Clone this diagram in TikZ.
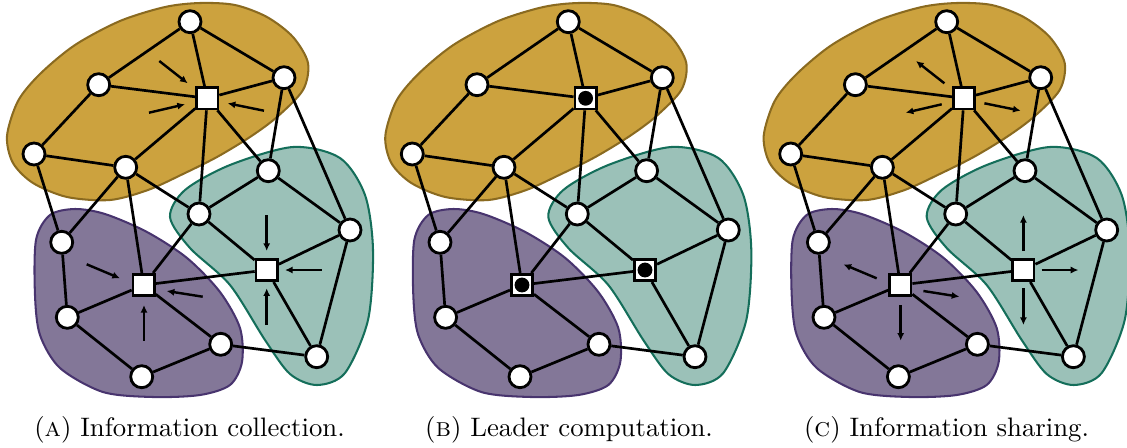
\documentclass[tikz,border=0pt]{standalone}
\usetikzlibrary{arrows.meta,backgrounds}
\definecolor{yfill}{RGB}{204,162,62}
\definecolor{yline}{RGB}{138,106,32}
\definecolor{tfill}{RGB}{155,193,184}
\definecolor{tline}{RGB}{20,110,90}
\definecolor{pfill}{RGB}{131,119,152}
\definecolor{pline}{RGB}{72,52,110}
\tikzset{
 vert/.style={circle,draw=black,fill=white,line width=1.1pt,minimum size=8.6pt,inner sep=0pt},
 lead/.style={rectangle,draw=black,fill=white,line width=1.1pt,minimum size=8.3pt,inner sep=0pt},
 ldot/.style={circle,fill=black,minimum size=5.8pt,inner sep=0pt},
 link/.style={line width=1.05pt},
 flow/.style={line width=0.95pt,-{Latex[length=3pt,width=2.8pt]}},
 blob/.style={line width=0.8pt},
 captext/.style={anchor=base,inner sep=0pt,font=\fontsize{10.45}{12.5}\selectfont}
}
\newcommand\mkgraph[2]{%
\begin{scope}[shift={(#2,0)}]
\node[vert] (#1T) at (190,21.7) {};
\node[vert] (#1UL) at (98.7,84.7) {};
\node[vert] (#1UR) at (284,77.7) {};
\node[lead] (#1S1) at (207.3,98.3) {};
\node[vert] (#1L) at (34,154) {};
\node[vert] (#1M) at (125.7,167.3) {};
\node[vert] (#1G1) at (268.3,170.7) {};
\node[vert] (#1G2) at (199,214) {};
\node[vert] (#1G3) at (350,230) {};
\node[lead] (#1S3) at (266.7,270) {};
\node[vert] (#1G4) at (316.7,356.7) {};
\node[vert] (#1P1) at (61.7,242.3) {};
\node[lead] (#1S2) at (143.7,285) {};
\node[vert] (#1P2) at (67.3,317.3) {};
\node[vert] (#1P3) at (220.7,344.3) {};
\node[vert] (#1P4) at (141.7,376.7) {};
\begin{pgfonlayer}{background}
\filldraw[blob,fill=yfill,draw=yline] plot[smooth cycle] coordinates {(7,136) (18,101) (40,74) (75,45) (120,21) (165,7) (200,3) (235,5) (267,17) (293,37) (308,63) (303,90) (277,117) (250,137) (217,157) (183,174) (148,190) (110,200) (67,197) (33,183) (13,163)};
\filldraw[blob,fill=tfill,draw=tline] plot[smooth cycle] coordinates {(170,217) (185,190) (230,165) (293,147) (340,158) (365,195) (373,250) (368,320) (345,373) (317,385) (290,374) (265,340) (230,285) (190,248)};
\filldraw[blob,fill=pfill,draw=pline] plot[smooth cycle] coordinates {(36,240) (50,215) (75,209) (105,214) (147,232) (187,258) (220,292) (240,328) (242,362) (230,385) (200,395) (153,397) (103,392) (60,368) (40,335) (35,295)};
\draw[link] (#1T) -- (#1UL) (#1T) -- (#1S1) (#1T) -- (#1UR)
 (#1UL) -- (#1S1) (#1UL) -- (#1L)
 (#1UR) -- (#1S1) (#1UR) -- (#1G1) (#1UR) -- (#1G3)
 (#1S1) -- (#1M) (#1S1) -- (#1G2) (#1S1) -- (#1G1)
 (#1L) -- (#1M) (#1L) -- (#1P1)
 (#1M) -- (#1P1) (#1M) -- (#1S2) (#1M) -- (#1G2)
 (#1G1) -- (#1G2) (#1G1) -- (#1G3)
 (#1G2) -- (#1S3) (#1G2) -- (#1S2)
 (#1G3) -- (#1S3) (#1G3) -- (#1G4)
 (#1S3) -- (#1S2) (#1S3) -- (#1G4)
 (#1S2) -- (#1P2) (#1S2) -- (#1P3)
 (#1P1) -- (#1P2) (#1P2) -- (#1P4) (#1P4) -- (#1P3) (#1P3) -- (#1G4);
\end{pgfonlayer}
\end{scope}}
\newcommand\fl[3]{\coordinate (#1s) at (#2); \coordinate (#1e) at (#3); \draw[flow] (#1s) -- (#1e);}
\begin{document}
\begin{tikzpicture}[x=0.391pt,y=-0.391pt]
\useasboundingbox (0,0) rectangle (1127,447);
\mkgraph{a}{0}
\mkgraph{b}{378.3}
\mkgraph{c}{756.7}
% panel A arrows (collection)
\begin{scope}
\fl{a1}{159.3,61}{187.7,83.3}
\fl{a2}{149,112.7}{185,104.3}
\fl{a3}{264,110.7}{227.7,103.3}
\fl{a4}{266.7,215}{266.7,251}
\fl{a5}{321.7,270}{285,270}
\fl{a6}{266.7,325}{266.7,288.3}
\fl{a7}{86.7,264.3}{120,278.3}
\fl{a8}{202.7,296.7}{166.7,291}
\fl{a9}{144,340.7}{144,305}
\end{scope}
% panel B dots
\node[ldot] (bd1) at (bS1) {};
\node[ldot] (bd2) at (bS2) {};
\node[ldot] (bd3) at (bS3) {};
% panel C arrows (sharing)
\begin{scope}[shift={(756.7,0)}]
\fl{c1}{187.7,83.3}{159.3,61}
\fl{c2}{185,104.3}{149,112.7}
\fl{c3}{227.7,103.3}{264,110.7}
\fl{c4}{266.7,251}{266.7,215}
\fl{c5}{285,270}{321.7,270}
\fl{c6}{266.7,288.3}{266.7,325}
\fl{c7}{120,278.3}{86.7,264.3}
\fl{c8}{166.7,291}{202.7,296.7}
\fl{c9}{144,305}{144,340.7}
\end{scope}
\node[captext] (capa) at (189.5,436) {(\textsc{a}) Information collection.};
\node[captext] (capb) at (569,436) {(\textsc{b}) Leader computation.};
\node[captext] (capc) at (946.5,436) {(\textsc{c}) Information sharing.};
\end{tikzpicture}
\end{document}
